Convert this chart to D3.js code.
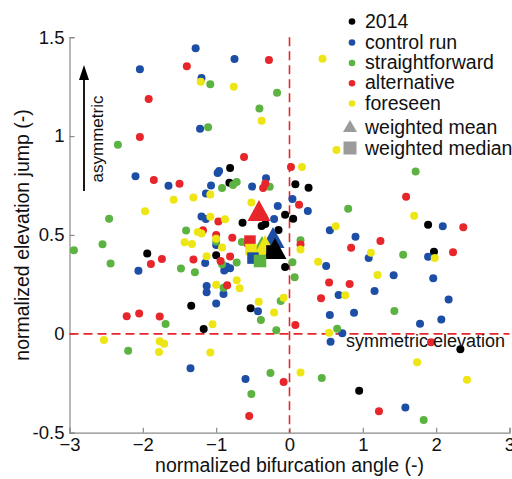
<!DOCTYPE html>
<html><head><meta charset="utf-8">
<script src="https://cdn.jsdelivr.net/npm/d3@7"></script>
<style>html,body{margin:0;padding:0;background:#fff}svg{display:block}text{font-family:"Liberation Sans",Arial,Helvetica,sans-serif;fill:#111}</style>
</head><body><svg id="c" width="512" height="479"></svg>
<script>
// ---- data ----
const seriesNames = ["2014", "control run", "straightforward", "alternative", "foreseen"];
const seriesColors = ["#000000", "#1d4ea6", "#5cb341", "#e6262b", "#ede514"];
const pts2014 = [[-0.81,0.839],[-0.82,0.764],[-0.64,0.562],[-0.38,0.545],[-0.33,0.555],[-0.06,0.602],[-0.15,0.525],[-1.94,0.406],[-1.00,0.397],[-0.06,0.338],[-1.34,0.142],[-0.53,0.129],[-1.17,0.024],[0.08,0.756],[0.26,0.739],[0.05,0.582],[1.89,0.552],[1.97,0.415],[2.33,-0.078],[0.95,-0.288]];
const ptsControl = [[-1.28,1.444],[-2.04,1.338],[-0.75,1.39],[-1.20,1.294],[-1.22,1.037],[-0.96,0.823],[-0.98,0.813],[-2.10,0.797],[-0.32,0.787],[-1.65,0.749],[-1.07,0.75],[-0.51,0.745],[-1.14,0.709],[-0.16,0.646],[-1.20,0.593],[-1.14,0.581],[-0.21,0.581],[-1.00,0.449],[-1.15,0.358],[-0.86,0.34],[-0.81,0.331],[-2.06,0.319],[-0.89,0.32],[-1.13,0.242],[-1.13,0.21],[-0.90,0.201],[-1.00,0.153],[-0.43,0.114],[-1.35,-0.174],[-0.60,-0.229],[0.04,0.682],[0.25,0.621],[0.55,0.524],[0.90,0.491],[1.08,0.383],[1.89,0.39],[2.09,0.544],[0.50,0.343],[1.42,0.296],[1.96,0.281],[0.67,0.196],[1.16,0.216],[2.17,0.174],[0.55,0.095],[0.88,0.107],[2.07,0.072],[0.72,0.003],[0.56,-0.04],[1.78,0.051],[1.58,-0.372]];
const ptsStraight = [[-1.08,1.262],[-0.17,1.219],[-0.41,1.139],[-1.11,1.044],[-2.34,0.956],[-0.77,0.753],[-0.72,0.768],[-0.92,0.737],[-0.27,0.744],[-2.46,0.582],[-1.41,0.522],[-2.55,0.453],[-2.94,0.423],[-0.65,0.464],[-2.44,0.355],[-1.48,0.33],[-1.29,0.311],[-0.92,0.352],[-0.72,0.361],[-0.90,0.233],[-0.12,0.166],[-1.69,0.05],[-0.39,0.07],[-0.18,0.018],[-2.20,-0.085],[-0.26,-0.198],[-0.52,-0.304],[1.72,0.821],[0.80,0.633],[0.15,0.473],[1.55,0.40],[0.04,0.362],[0.07,0.286],[1.43,0.115],[0.65,0.026],[0.44,-0.224],[1.83,-0.436],[-1.00,0.467]];
const ptsAlt = [[-1.40,1.353],[-0.28,1.385],[-1.92,1.188],[-2.04,0.995],[-0.62,0.894],[0.02,0.843],[-1.85,0.778],[-1.50,0.759],[-0.33,0.76],[-0.36,0.737],[-0.97,0.568],[-1.18,0.524],[-1.00,0.50],[-0.78,0.486],[-1.74,0.379],[-1.89,0.353],[-1.31,0.376],[-0.94,0.368],[-0.81,0.391],[-0.85,0.246],[-2.22,0.089],[-2.05,0.103],[-1.77,0.088],[-0.08,-0.244],[-0.55,-0.416],[1.59,0.693],[0.13,0.653],[1.24,0.469],[0.84,0.435],[2.23,0.412],[2.37,0.539],[0.54,0.26],[0.82,0.252],[0.43,0.18],[0.08,0.045],[1.93,-0.043],[1.22,-0.392],[0.15,0.452]];
const ptsForeseen = [[-1.21,1.275],[-0.76,1.25],[-0.38,1.078],[0.45,1.391],[0.64,0.93],[0.17,0.844],[-1.58,0.678],[-1.31,0.689],[-1.08,0.705],[-1.97,0.62],[-0.52,0.664],[-1.08,0.592],[-0.88,0.579],[-1.25,0.515],[-1.20,0.507],[-1.00,0.481],[-1.43,0.463],[-1.33,0.454],[-0.92,0.437],[-1.13,0.392],[-0.72,0.271],[-0.68,0.231],[-1.00,0.248],[-0.42,0.162],[-0.21,0.108],[-0.08,0.183],[-1.05,0.048],[-2.53,-0.031],[-1.77,-0.038],[-1.71,-0.05],[-1.78,-0.092],[-1.08,-0.094],[1.70,0.597],[0.63,0.544],[0.15,0.427],[1.11,0.41],[1.98,0.383],[0.39,0.365],[1.20,0.297],[0.76,0.195],[0.54,0.006],[1.74,-0.144],[0.15,-0.195],[2.42,-0.232]];
const weightedMean = [[-0.198,0.414],[-0.225,0.469],[-0.375,0.424],[-0.416,0.606],[-0.334,0.429]];
const weightedMedian = [[-0.239,0.419],[-0.498,0.383],[-0.402,0.368],[-0.539,0.469],[-0.525,0.426]];
const xTicks = [-3, -2, -1, 0, 1, 2, 3];
const yTicks = [-0.5, 0, 0.5, 1, 1.5];
const xLabel = "normalized bifurcation angle (-)";
const yLabel = "normalized elevation jump (-)";
const legendExtra = ["weighted mean", "weighted median"];

// ---- drawing ----
const svg = d3.select("#c");
const m = {l: 69.5, r: 509.5, t: 37.2, b: 432.7};
const x = d3.scaleLinear().domain([-3, 3]).range([m.l, m.r]);
const y = d3.scaleLinear().domain([-0.5, 1.5]).range([m.b, m.t]);
const axisCol = "#8a8a8a";
const dashCol = "#e8262b";

// axes
const gx = svg.append("g").attr("transform", `translate(0,${m.b})`)
  .call(d3.axisBottom(x).tickValues(xTicks).tickSize(-5).tickPadding(5).tickFormat(d3.format("d")));
const gy = svg.append("g").attr("transform", `translate(${m.l},0)`)
  .call(d3.axisLeft(y).tickValues(yTicks).tickSize(-5).tickPadding(5).tickFormat(d => String(d)));
[gx, gy].forEach(g => {
  g.select(".domain").attr("stroke", axisCol).attr("stroke-width", 1.2);
  g.selectAll(".tick line").attr("stroke", axisCol).attr("stroke-width", 1.2);
  g.selectAll(".tick text").attr("fill", "#111").style("font-size", "18.5px")
   .style("font-family", '"Liberation Sans",Arial,sans-serif');
});
gx.selectAll(".tick text").attr("dy", "0.71em");

// dashed reference lines
svg.append("line").attr("x1", x(0)).attr("x2", x(0)).attr("y1", m.t).attr("y2", m.b)
  .attr("stroke", dashCol).attr("stroke-width", 1.6).attr("stroke-dasharray", "9,5");
svg.append("line").attr("x1", m.l).attr("x2", m.r).attr("y1", y(0)).attr("y2", y(0))
  .attr("stroke", dashCol).attr("stroke-width", 1.6).attr("stroke-dasharray", "9,5");

// scatter points
const allSeries = [pts2014, ptsControl, ptsStraight, ptsAlt, ptsForeseen];
allSeries.forEach((arr, i) => {
  svg.append("g").selectAll("circle").data(arr).join("circle")
    .attr("cx", d => x(d[0])).attr("cy", d => y(d[1])).attr("r", 4)
    .attr("fill", seriesColors[i]);
});

// weighted mean triangles & medians squares
function tri(cx, cy, w, h) {
  return `M${cx},${cy - 2 * h / 3}L${cx + w / 2},${cy + h / 3}L${cx - w / 2},${cy + h / 3}Z`;
}
const triOrder = [2, 1, 4, 0, 3];
triOrder.forEach(i => {
  const d = weightedMean[i];
  svg.append("path").attr("d", tri(x(d[0]), y(d[1]), 23, 21)).attr("fill", seriesColors[i]);
});
const sqOrder = [3, 4, 1, 2, 0];
sqOrder.forEach(i => {
  const d = weightedMedian[i];
  const s = i === 2 ? 12.5 : 11.5;
  svg.append("rect").attr("x", x(d[0]) - s / 2).attr("y", y(d[1]) - s / 2)
    .attr("width", s).attr("height", s).attr("fill", seriesColors[i]);
});

// arrow + annotation
svg.append("line").attr("x1", 84).attr("x2", 84).attr("y1", 191).attr("y2", 78)
  .attr("stroke", "#000").attr("stroke-width", 1.8);
svg.append("path").attr("d", "M84,65L89,80L79,80Z").attr("fill", "#000");
svg.append("text").attr("transform", "translate(103,139) rotate(-90)")
  .attr("text-anchor", "middle").style("font-size", "17px").text("asymmetric");
svg.append("text").attr("x", 346).attr("y", 347).style("font-size", "18px").text("symmetric elevation");

// axis labels
svg.append("text").attr("x", (m.l + m.r) / 2).attr("y", 472).attr("text-anchor", "middle")
  .style("font-size", "19.5px").text(xLabel);
svg.append("text").attr("transform", `translate(29,${(m.t + m.b) / 2}) rotate(-90)`)
  .attr("text-anchor", "middle").style("font-size", "19.5px").text(yLabel);

// legend
const lg = svg.append("g");
const rowY = [21.5, 42.5, 63, 83.3, 103.5];
seriesNames.forEach((n, i) => {
  lg.append("circle").attr("cx", 352).attr("cy", rowY[i]).attr("r", 3.3).attr("fill", seriesColors[i]);
  lg.append("text").attr("x", 365).attr("y", rowY[i] + 6).style("font-size", "19.5px").text(n);
});
lg.append("path").attr("d", tri(350, 128, 14, 12)).attr("fill", "#9b9b9b");
lg.append("text").attr("x", 365).attr("y", 133.5).style("font-size", "19.5px").text(legendExtra[0]);
lg.append("rect").attr("x", 343.5).attr("y", 141.5).attr("width", 13).attr("height", 13).attr("fill", "#9b9b9b");
lg.append("text").attr("x", 365).attr("y", 154.5).style("font-size", "19.5px").text(legendExtra[1]);
</script></body></html>
